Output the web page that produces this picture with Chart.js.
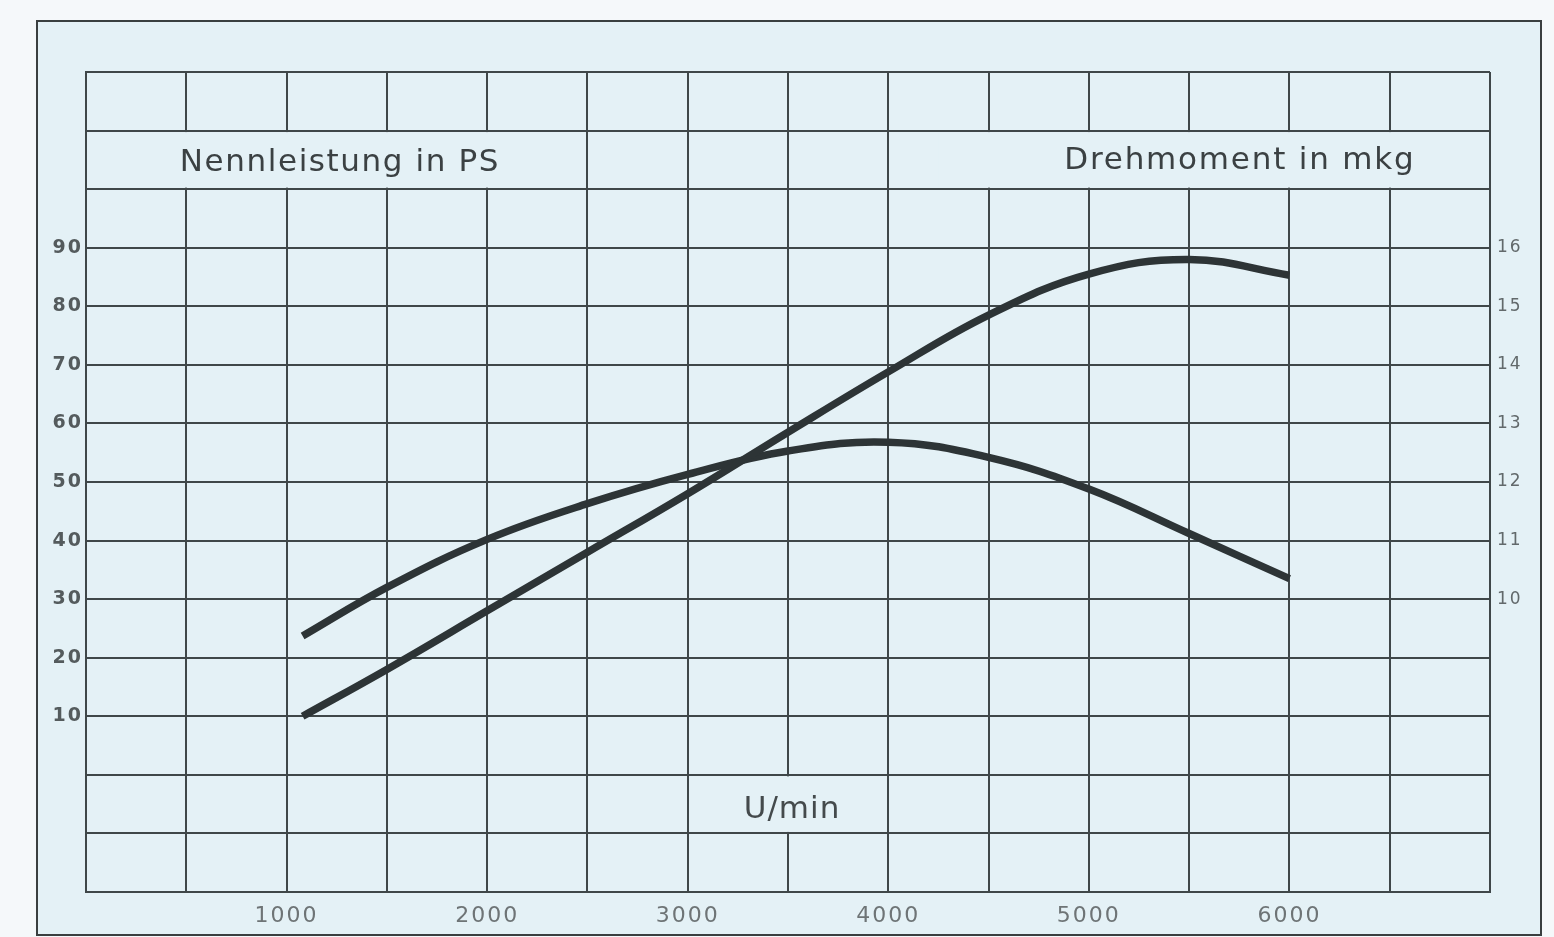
<!DOCTYPE html>
<html>
<head>
<meta charset="utf-8">
<script src="https://cdn.jsdelivr.net/npm/chart.js@4.4.1/dist/chart.umd.min.js"></script>
<style>
  html, body { margin: 0; padding: 0; background: #f5f8fa; }
  #wrap { position: relative; width: 1554px; height: 937px; }
  canvas { display: block; }
</style>
</head>
<body>
<div id="wrap"><canvas id="c" width="1554" height="937"></canvas></div>
<script>
// ---- data ----
const rpm        = [1080, 1500, 2000, 2500, 3000, 3500, 4000, 4500, 5000, 5500, 6000];
const powerPS    = [10, 18, 28, 38, 48, 58.5, 68.8, 78.5, 85.5, 88, 85.3];
const torqueMkg  = [9.37, 10.2, 11.02, 11.63, 12.13, 12.53, 12.68, 12.42, 11.88, 11.12, 10.35];
const xTickLabels   = [1000, 2000, 3000, 4000, 5000, 6000];
const psTickLabels  = [10, 20, 30, 40, 50, 60, 70, 80, 90];
const mkgTickLabels = [10, 11, 12, 13, 14, 15, 16];
const titlePS  = 'Nennleistung in PS';
const titleMkg = 'Drehmoment in mkg';
const titleX   = 'U/min';

// ---- styling ----
const BG_OUT  = '#f5f8fa';
const BG_IN   = '#e4f1f6';
const GRID    = '#3f4749';
const CURVE   = '#2d3436';
const FONT    = '"DejaVu Sans", "Liberation Sans", sans-serif';

function textWithSpacing(ctx, text, x, y, font, color, align, spacing) {
  ctx.save();
  ctx.font = font;
  ctx.fillStyle = color;
  ctx.textAlign = align;
  ctx.textBaseline = 'alphabetic';
  if ('letterSpacing' in ctx) ctx.letterSpacing = spacing + 'px';
  ctx.fillText(text, x, y);
  ctx.restore();
}

const framePlugin = {
  id: 'frame',
  beforeDraw(chart) {
    const ctx = chart.ctx;
    ctx.save();
    ctx.fillStyle = BG_OUT;
    ctx.fillRect(0, 0, chart.width, chart.height);
    ctx.fillStyle = BG_IN;
    ctx.fillRect(37, 21, 1504, 914);
    ctx.strokeStyle = '#3a3f40';
    ctx.lineWidth = 2;
    ctx.strokeRect(37, 21, 1504, 914);
    ctx.restore();
    if ('letterSpacing' in ctx) ctx.letterSpacing = '2px';
  },
  beforeDatasetsDraw(chart) {
    const ctx = chart.ctx;
    if ('letterSpacing' in ctx) ctx.letterSpacing = '0px';
    const x = chart.scales.x, y = chart.scales.y, a = chart.chartArea;
    ctx.save();
    ctx.fillStyle = BG_IN;
    // title row: clear vertical lines behind the texts
    const rTop = y.getPixelForValue(110) + 1.5, rBot = y.getPixelForValue(100) - 1.5;
    ctx.fillRect(a.left + 1.5, rTop, x.getPixelForValue(2400) - a.left - 1.5, rBot - rTop);
    ctx.fillRect(x.getPixelForValue(4250), rTop, a.right - 1.5 - x.getPixelForValue(4250), rBot - rTop);
    // U/min row
    const uTop = y.getPixelForValue(0) + 1.5, uBot = y.getPixelForValue(-10) - 1.5;
    const uc = x.getPixelForValue(3520);
    ctx.fillRect(uc - 55, uTop, 110, uBot - uTop);
    ctx.restore();

    const base = y.getPixelForValue(100) - 18;
    const f = '31px ' + FONT;
    textWithSpacing(ctx, titlePS, x.getPixelForValue(1266), base, f, '#3b4143', 'center', 1.6);
    textWithSpacing(ctx, titleMkg, x.getPixelForValue(5753), base - 2, f, '#3b4143', 'center', 1.8);
    textWithSpacing(ctx, titleX, uc, y.getPixelForValue(-10) - 15, f, '#444a4c', 'center', 1);
  }
};

const toXY = (ys) => rpm.map((r, i) => ({ x: r, y: ys[i] }));

new Chart(document.getElementById('c'), {
  type: 'line',
  data: {
    datasets: [
      {
        label: titlePS,
        data: toXY(powerPS),
        yAxisID: 'y',
        borderColor: CURVE,
        borderWidth: 7.5,
        pointRadius: 0,
        tension: 0.4,
        fill: false,
        borderCapStyle: 'butt'
      },
      {
        label: titleMkg,
        data: toXY(torqueMkg),
        yAxisID: 'y1',
        borderColor: CURVE,
        borderWidth: 7.5,
        pointRadius: 0,
        tension: 0.4,
        fill: false,
        borderCapStyle: 'butt'
      }
    ]
  },
  options: {
    responsive: false,
    devicePixelRatio: 1,
    animation: false,
    layout: { padding: { top: 72, left: 0, right: 0, bottom: 0 } },
    plugins: { legend: { display: false }, tooltip: { enabled: false } },
    scales: {
      x: {
        type: 'linear',
        position: 'bottom',
        min: 0, max: 7000,
        afterFit: (s) => { s.height = 45; },
        ticks: {
          stepSize: 500, autoSkip: false, maxRotation: 0, maxTicksLimit: 100,
          padding: 11,
          color: '#6e7476',
          font: { family: FONT, size: 22 },
          callback: (v) => xTickLabels.includes(v) ? String(v) : ''
        },
        grid: { color: GRID, lineWidth: 2, drawTicks: false },
        border: { color: GRID, width: 2 }
      },
      y: {
        position: 'left',
        min: -20, max: 120,
        afterFit: (s) => { s.width = 86; },
        ticks: {
          stepSize: 10, maxTicksLimit: 100,
          padding: 3,
          color: '#545b5d',
          font: { family: FONT, size: 19, weight: 'bold' },
          callback: (v) => psTickLabels.includes(v) ? String(v) : ''
        },
        grid: { color: GRID, lineWidth: 2, drawTicks: false },
        border: { color: GRID, width: 2 }
      },
      y1: {
        position: 'right',
        min: 5, max: 19,
        afterFit: (s) => { s.width = 64; },
        ticks: {
          stepSize: 1, maxTicksLimit: 100,
          padding: 7,
          color: '#62696b',
          font: { family: FONT, size: 17 },
          callback: (v) => mkgTickLabels.includes(v) ? String(v) : ''
        },
        grid: { display: false, drawTicks: false },
        border: { display: false }
      }
    }
  },
  plugins: [framePlugin]
});
</script>
</body>
</html>
